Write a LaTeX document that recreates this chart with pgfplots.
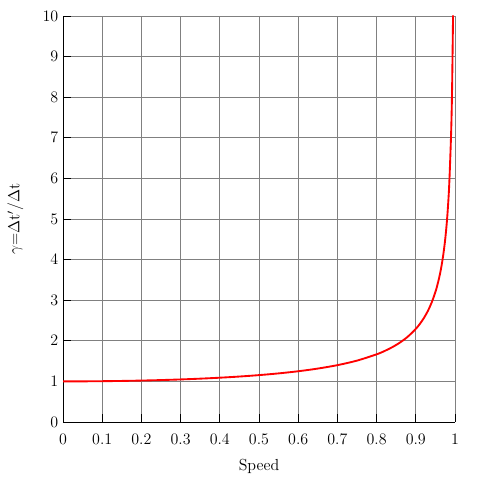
\documentclass[border=0pt]{standalone}
\usepackage{pgfplots}
\pgfplotsset{compat=1.18}
\begin{document}
\begin{tikzpicture}
\begin{axis}[
  scale only axis,
  width=294pt, height=304.5pt,
  xmin=0, xmax=1, ymin=0, ymax=10,
  xtick={0,0.1,...,1}, ytick={0,1,...,10},
  xticklabels={0,0.1,0.2,0.3,0.4,0.5,0.6,0.7,0.8,0.9,1},
  axis lines=left,
  axis line style={-, black, line width=0.6pt},
  tick align=inside,
  major tick length=6pt,
  tick style={black, line width=0.6pt},
  tick label style={font=\large},
  label style={font=\large},
  xticklabel style={yshift=-5pt},
  grid=major,
  major grid style={gray, line width=0.6pt},
  xlabel={Speed},
  ylabel={$\gamma$=$\Delta$t$'$/$\Delta$t},
  xlabel style={yshift=-4pt},
  ylabel style={yshift=7.5pt},
  clip=true,
]
\addplot[red, line width=1.4pt, smooth] coordinates {
(0,1) (0.05,1.00125) (0.1,1.00504) (0.15,1.01144) (0.2,1.02062) (0.25,1.03280)
(0.3,1.04828) (0.35,1.06752) (0.4,1.09109) (0.45,1.11979) (0.5,1.15470)
(0.55,1.19737) (0.6,1.25) (0.65,1.31590) (0.7,1.40028) (0.75,1.51186)
(0.8,1.66667) (0.82,1.74714) (0.84,1.84302) (0.86,1.95965) (0.88,2.10538)
(0.9,2.29416) (0.91,2.41192) (0.92,2.55155) (0.93,2.72064) (0.94,2.93105)
(0.95,3.20256) (0.955,3.37148) (0.96,3.57143) (0.965,3.81316) (0.97,4.11345)
(0.975,4.50035) (0.98,5.02519) (0.985,5.79529) (0.99,7.08881) (0.9925,8.18030)
(0.995,10.0125)
};
\end{axis}
\path[use as bounding box] ([shift={(-47.25pt,-43.5pt)}]current axis.south west) rectangle ([shift={(18.75pt,12pt)}]current axis.north east);
\end{tikzpicture}
\end{document}
